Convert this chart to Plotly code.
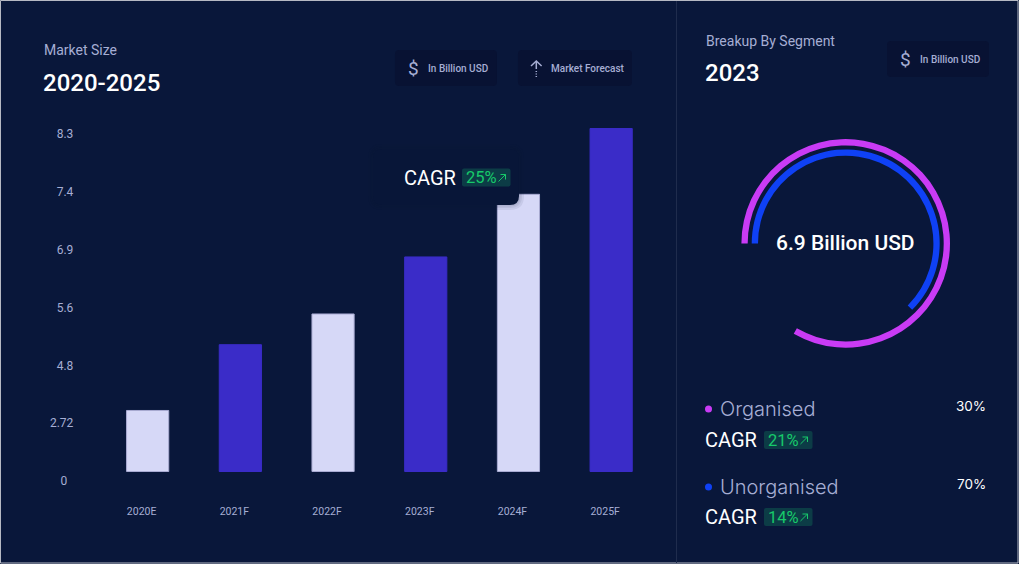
import plotly.graph_objects as go

W, H = 1020, 566

# Market size series
years = ["2020E", "2021F", "2022F", "2023F", "2024F", "2025F"]
market_size = [1.53, 3.18, 3.95, 5.38, 6.95, 8.6]
y_tick_labels = ["0\u00a0\u00a0", "2.72", "4.8", "5.6", "6.9", "7.4", "8.3"]
y_tick_values = [-0.24, 1.21, 2.66, 4.11, 5.56, 7.01, 8.46]

# Ring series: share of a full turn covered by each arc
segments = ["Organised", "Unorganised"]
arc_filled = [83.3, 62.5]
arc_empty = [16.7, 37.5]
segment_share = ["30%", "70%"]
segment_cagr = ["21%", "14%"]

BG = "#09173a"
CHIP = "#081233"
LIGHT_BAR = "#d6d8f7"
LIGHT_EDGE = "#a9abd2"
DARK_BAR = "#3a2cc8"
MUTED = "#a6aed4"
GREEN = "#17c96a"
GREEN_BG = "#0c3c46"
PURPLE = "#c93bf5"
BLUE = "#0f41f5"
WHITE = "#ffffff"
ROBOTO = "Roboto"
WIDE = "Inter"


def fx(px):
    return px / W


def fy(px):
    return 1 - px / H


def pts(x, y):
    return f"{fx(x):.5f},{fy(y):.5f}"


def round_rect(x0, y0, x1, y1, r):
    return (
        f"M{pts(x0 + r, y0)} L{pts(x1 - r, y0)} Q{pts(x1, y0)} {pts(x1, y0 + r)} "
        f"L{pts(x1, y1 - r)} Q{pts(x1, y1)} {pts(x1 - r, y1)} "
        f"L{pts(x0 + r, y1)} Q{pts(x0, y1)} {pts(x0, y1 - r)} "
        f"L{pts(x0, y0 + r)} Q{pts(x0, y0)} {pts(x0 + r, y0)} Z"
    )


shapes = [dict(type="rect", xref="paper", yref="paper", x0=0, x1=1, y0=0, y1=1,
               fillcolor=BG, line=dict(width=0), layer="below")]
annotations = []


def panel(x0, y0, x1, y1, r, fill, border=None, layer="above"):
    shapes.append(dict(
        type="path", xref="paper", yref="paper", path=round_rect(x0, y0, x1, y1, r),
        fillcolor=fill, layer=layer,
        line=dict(color=border or fill, width=1 if border else 0),
    ))


def stroke(points, color, width):
    path = "M" + " L".join(pts(x, y) for x, y in points)
    shapes.append(dict(
        type="path", xref="paper", yref="paper", path=path, layer="above",
        line=dict(color=color, width=width),
    ))


def label(x, y, text, size, color, weight=400, family=ROBOTO, anchor="left"):
    annotations.append(dict(
        xref="paper", yref="paper", x=fx(x), y=fy(y), text=text, showarrow=False,
        xanchor=anchor, yanchor="middle", borderpad=0, borderwidth=0,
        font=dict(family=family, size=size, color=color, weight=weight),
    ))


def growth_badge(x0, yc, value):
    panel(x0, yc - 9, x0 + 48.5, yc + 9, 2, GREEN_BG)
    label(x0 + 4, yc, value, 16.5, GREEN)
    ax, ay = x0 + 36.5, yc + 4
    stroke([(ax, ay), (ax + 7, ay - 7)], GREEN, 1)
    stroke([(ax + 2, ay - 7), (ax + 7, ay - 7), (ax + 7, ay - 2)], GREEN, 1)


def dollar_chip(x0, y0, x1, y1, text_x):
    panel(x0, y0, x1, y1, 4, CHIP)
    label(x0 + 18.5, (y0 + y1) / 2 + 0.5, "$", 19, MUTED, anchor="center")
    label(text_x, (y0 + y1) / 2 + 0.5, "In Billion USD", 10, MUTED, weight=500)


fig = go.Figure()

fig.add_trace(go.Bar(
    x=years, y=market_size, width=0.455,
    marker=dict(
        color=[LIGHT_BAR, DARK_BAR, LIGHT_BAR, DARK_BAR, LIGHT_BAR, DARK_BAR],
        line=dict(width=1, color=[LIGHT_EDGE, DARK_BAR, LIGHT_EDGE, DARK_BAR, LIGHT_EDGE, DARK_BAR]),
    ),
    hoverinfo="skip", showlegend=False,
))

# Two thin concentric arcs, both starting at nine o'clock and running clockwise
rings = [(845.7, 243.4, 104.3, 98.0, 0, PURPLE), (845.7, 243.4, 94.0, 87.7, 1, BLUE)]
for cx, cy, r_out, r_in, i, color in rings:
    fig.add_trace(go.Pie(
        labels=[segments[i], "rest"], values=[arc_filled[i], arc_empty[i]],
        sort=False, direction="clockwise", rotation=270, hole=r_in / r_out,
        domain=dict(x=[fx(cx - r_out), fx(cx + r_out)], y=[fy(cy + r_out), fy(cy - r_out)]),
        marker=dict(colors=[color, "rgba(0,0,0,0)"], line=dict(width=0)),
        textinfo="none", hoverinfo="skip", showlegend=False,
    ))

# Panel frame and divider
panel(0.5, 0.5, 1018, 563, 0, "rgba(0,0,0,0)", border="#b9bcc6", layer="below")
shapes.append(dict(
    type="line", xref="paper", yref="paper", x0=fx(676.5), x1=fx(676.5), y0=fy(1), y1=fy(563),
    line=dict(color="#1f2c4d", width=1), layer="below",
))
# Page strip outside the frame
shapes.append(dict(type="rect", xref="paper", yref="paper", x0=fx(0), x1=fx(1020), y0=fy(566), y1=fy(564),
                   fillcolor="#ffffff", line=dict(width=0), layer="below"))
shapes.append(dict(type="rect", xref="paper", yref="paper", x0=fx(1019), x1=fx(1020), y0=fy(566), y1=fy(0),
                   fillcolor="#ffffff", line=dict(width=0), layer="below"))

# Left panel header
label(44, 50, "Market Size", 14, MUTED)
label(42.5, 83, "2020-2025", 24, WHITE, weight=500)
dollar_chip(395, 50, 497, 86, 428)
panel(518, 50, 632, 86, 4, CHIP)
stroke([(536.3, 69), (536.3, 61)], MUTED, 1.5)
stroke([(531, 66), (536.3, 61), (541.6, 66)], MUTED, 1.5)
for dot_y in (71, 73.5, 76):
    stroke([(536.3, dot_y), (536.3, dot_y + 1)], MUTED, 1.5)
label(551, 68.5, "Market Forecast", 10, MUTED, weight=500)

# Growth callout over the bars, with a soft drop shadow on what lies beneath
for grow in (5, 3, 1.5):
    panel(373 - grow, 149 - grow, 519 + grow, 205 + grow, 9 + grow, "rgba(9,23,58,0.07)")
panel(373, 149, 519, 205, 9, "#081638")
label(404, 178, "CAGR", 20, WHITE)
growth_badge(462, 177.5, "25%")

# Right panel header
label(706, 41, "Breakup By Segment", 14, MUTED)
label(705, 73, "2023", 24, WHITE, weight=500)
dollar_chip(887, 41, 989, 77, 920)
label(845.5, 243.5, "6.9 Billion USD", 21, WHITE, weight=500, anchor="center")

# Segment legend
rows = [(409, 440, PURPLE), (487, 517, BLUE)]
for i, (y_name, y_cagr, color) in enumerate(rows):
    shapes.append(dict(
        type="circle", xref="paper", yref="paper", layer="above",
        x0=fx(705), x1=fx(712), y0=fy(y_name - 3.5), y1=fy(y_name + 3.5),
        fillcolor=color, line=dict(width=0),
    ))
    label(720, y_name - 0.5, segments[i], 20, MUTED, family=WIDE, weight=300)
    label(986, y_name - 3.5, segment_share[i], 13.5, WHITE, family=WIDE, anchor="right")
    label(705, y_cagr, "CAGR", 20, WHITE)
    growth_badge(764, y_cagr, segment_cagr[i])

fig.update_layout(
    width=W, height=H, margin=dict(l=0, r=0, t=0, b=0),
    paper_bgcolor="#ffffff", plot_bgcolor=BG, showlegend=False,
    shapes=shapes, annotations=annotations,
    font=dict(family=ROBOTO),
    xaxis=dict(
        domain=[fx(101.3), fx(657.5)], anchor="y", showgrid=False, zeroline=False, showline=False,
        tickfont=dict(family=ROBOTO, size=10.5, color=MUTED), ticks="", ticklabelstandoff=12, ticklabelshift=-6,
    ),
    yaxis=dict(
        domain=[fy(491.44), fy(100.6)], range=[-0.5, 9.3], anchor="x", showgrid=False, zeroline=False,
        showline=False, tickmode="array", tickvals=y_tick_values, ticktext=y_tick_labels,
        tickfont=dict(family=ROBOTO, size=12, color=MUTED), ticks="", ticklabelstandoff=27,
    ),
)

fig.write_html("out.html")
